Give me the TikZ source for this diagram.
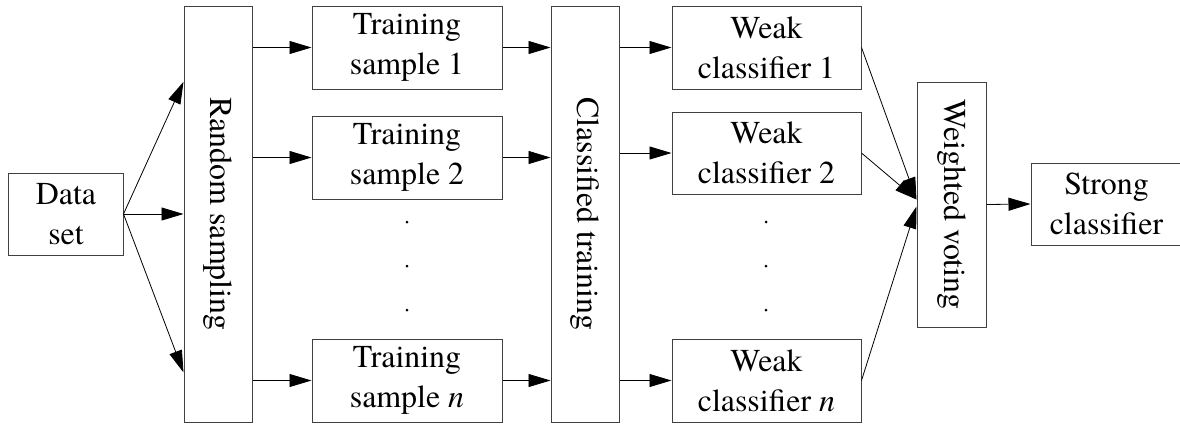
\documentclass[tikz,border=0pt]{standalone}
\usepackage{fontspec}
\setmainfont{TeX Gyre Termes}
\usetikzlibrary{arrows.meta,calc}
\begin{document}
\begin{tikzpicture}[x=1bp,y=-1bp,
  box/.style={draw=black!75,line width=1bp,inner sep=0pt,align=center,
    font=\rmfamily\fontsize{32}{40}\selectfont},
  lbl/.style={inner sep=0pt,font=\rmfamily\fontsize{32}{40}\selectfont},
  conn/.style={line width=0.8bp,-{Triangle[length=22bp,width=13bp]}}]
\useasboundingbox (0,0) rectangle (1180,426);
% boxes
\node[box,minimum width=114bp,minimum height=82bp] (ds) at (66,214) {Data\\set};
\node[box,minimum width=68bp,minimum height=416bp] (rs) at (218,214) {};
\node[lbl,rotate=-90] (rst) at (rs) {Random sampling};
\node[box,minimum width=190bp,minimum height=83bp] (t1) at (407,47.5) {Training\\sample 1};
\node[box,minimum width=190bp,minimum height=83bp] (t2) at (407,157.5) {Training\\sample 2};
\node[box,minimum width=190bp,minimum height=83bp] (tn) at (407,380.5) {Training\\sample \textit{n}};
\node[box,minimum width=68bp,minimum height=416bp] (ct) at (585,214) {};
\node[lbl,rotate=-90] (ctt) at (ct) {Classified training};
\node[box,minimum width=189bp,minimum height=83bp] (w1) at (766.5,47.5) {Weak\\classifier 1};
\node[box,minimum width=189bp,minimum height=82bp] (w2) at (766.5,153) {Weak\\classifier 2};
\node[box,minimum width=189bp,minimum height=83bp] (wn) at (766.5,380.5) {Weak\\classifier \textit{n}};
\node[box,minimum width=69bp,minimum height=245bp] (wv) at (951.5,204.5) {};
\node[lbl,rotate=-90] (wvt) at (wv) {Weighted voting};
\node[box,minimum width=151bp,minimum height=82bp] (sc) at (1106.5,204) {Strong\\classifier};
% dots
\foreach \yy in {222,266,310}{
  \fill (407,\yy) circle (1.5bp);
  \fill (766,\yy) circle (1.5bp);
}
% connectors
\draw[conn] (ds.east) -- ($(rs.north west)!0.183!(rs.south west)$);
\draw[conn] (ds.east) -- (rs.west);
\draw[conn] (ds.east) -- ($(rs.north west)!0.88!(rs.south west)$);
\foreach \t in {t1,t2,tn}{
  \draw[conn] (rs.east |- \t.west) -- (\t.west);
  \draw[conn] (\t.east) -- (ct.west |- \t.east);
}
\foreach \w in {w1,w2,wn}{
  \draw[conn] (ct.east |- \w.west) -- (\w.west);
}
\draw[conn] (w1.east) -- ([yshift=5bp]wv.west);
\draw[conn] (w2.east) -- ([yshift=5bp]wv.west);
\draw[conn] (wn.east) -- ([yshift=-2bp]wv.west);
\draw[conn] (wv.east) -- (sc.west);
\end{tikzpicture}
\end{document}
